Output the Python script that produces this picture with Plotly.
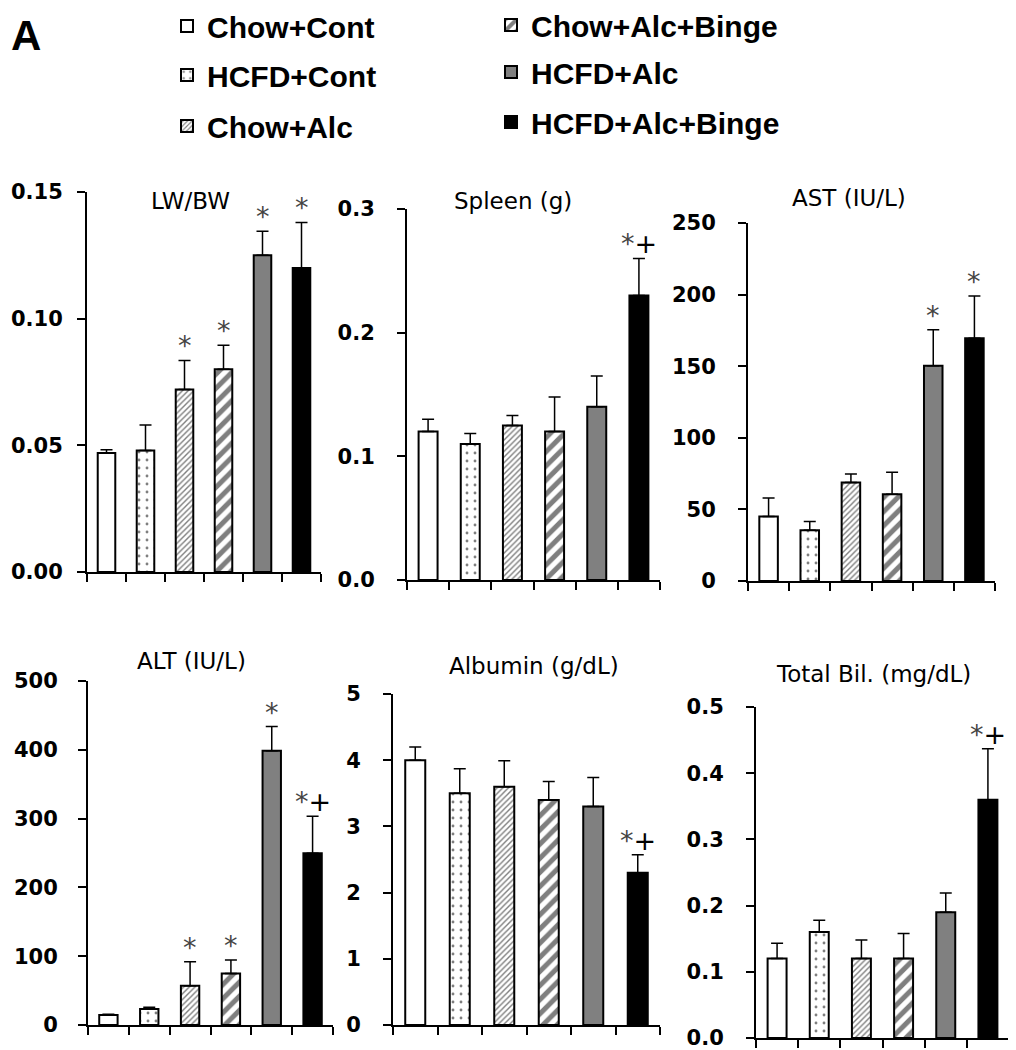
import plotly.graph_objects as go

W, H = 1016, 1050          # reference picture size
OFF = 8                    # page body margin
FW, FH = W - OFF, H - OFF  # figure size


def fx(px):
    return (px - OFF) / FW


def fy(py):
    return 1 - (py - OFF) / FH


# ---------------- data ----------------
groups = ["Chow+Cont", "HCFD+Cont", "Chow+Alc", "Chow+Alc+Binge", "HCFD+Alc", "HCFD+Alc+Binge"]

lwbw_mean = [0.047, 0.048, 0.072, 0.080, 0.125, 0.120]
lwbw_err = [0.0013, 0.010, 0.0115, 0.0095, 0.0095, 0.018]
lwbw_sig = ["", "", "*", "*", "*", "*"]

spleen_mean = [0.120, 0.110, 0.125, 0.120, 0.140, 0.230]
spleen_err = [0.010, 0.0085, 0.008, 0.028, 0.025, 0.030]
spleen_sig = ["", "", "", "", "", "*+"]

ast_mean = [45, 35.5, 68.7, 60.5, 150.4, 169.5]
ast_err = [13, 6, 6, 15.5, 25, 29.5]
ast_sig = ["", "", "", "", "*", "*"]

alt_mean = [14.5, 23.3, 57, 75, 398.7, 249.5]
alt_err = [1, 2.5, 35, 19.5, 35, 54]
alt_sig = ["", "", "*", "*", "*", "*+"]

alb_mean = [4.0, 3.5, 3.6, 3.4, 3.3, 2.3]
alb_err = [0.2, 0.37, 0.39, 0.28, 0.44, 0.27]
alb_sig = ["", "", "", "", "", "*+"]

bil_mean = [0.12, 0.16, 0.12, 0.12, 0.19, 0.36]
bil_err = [0.023, 0.018, 0.028, 0.038, 0.029, 0.077]
bil_sig = ["", "", "", "", "", "*+"]

panel_titles = ["LW/BW", "Spleen (g)", "AST (IU/L)", "ALT (IU/L)", "Albumin (g/dL)", "Total Bil. (mg/dL)"]

# ---------------- styles / layout ----------------
group_styles = [
    dict(color="white"),
    dict(color="white", pattern=dict(shape=".", size=8, solidity=0.1, fgcolor="black", bgcolor="white")),
    dict(color="white", pattern=dict(shape="/", size=4, solidity=0.35, fgcolor="black", bgcolor="white")),
    dict(color="white", pattern=dict(shape="/", size=10, solidity=0.5, fgcolor="black", bgcolor="white")),
    dict(color="#808080"),
    dict(color="black"),
]

panels = [
    dict(mean=lwbw_mean, err=lwbw_err, sig=lwbw_sig, yrange=[0, 0.15], dtick=0.05, fmt=".2f",
         box=(87, 321, 572, 192), title_xy=(190, 201), standoff=10),
    dict(mean=spleen_mean, err=spleen_err, sig=spleen_sig, yrange=[0, 0.3], dtick=0.1, fmt=".1f",
         box=(407, 660, 580, 209), title_xy=(513, 201), standoff=18),
    dict(mean=ast_mean, err=ast_err, sig=ast_sig, yrange=[0, 250], dtick=50, fmt="d",
         box=(748, 995, 581, 223), title_xy=(849, 198), standoff=18),
    dict(mean=alt_mean, err=alt_err, sig=alt_sig, yrange=[0, 500], dtick=100, fmt="d",
         box=(88, 333, 1025, 681), title_xy=(191, 661), standoff=16),
    dict(mean=alb_mean, err=alb_err, sig=alb_sig, yrange=[0, 5], dtick=1, fmt="d",
         box=(393, 660, 1025, 694), title_xy=(534, 666), standoff=18),
    dict(mean=bil_mean, err=bil_err, sig=bil_sig, yrange=[0, 0.5], dtick=0.1, fmt=".1f",
         box=(756, 1009, 1038, 707), title_xy=(873, 674), standoff=18),
]

legend_pos = [  # (legend-left px, center y px) in reference coordinates
    (167, 26), (167, 75), (167, 126),
    (491, 25), (491, 72), (491, 122),
]

fig = go.Figure()
layout = dict(
    width=FW, height=FH, margin=dict(l=0, r=0, t=0, b=0, autoexpand=False),
    paper_bgcolor="white", plot_bgcolor="white",
    barmode="overlay", annotations=[],
)

tick_font = dict(family="DejaVu Sans", size=21, color="black", weight="bold")

for pi, p in enumerate(panels):
    k = pi + 1
    xn = "x" if k == 1 else f"x{k}"
    yn = "y" if k == 1 else f"y{k}"
    x0, x1, yb, yt = p["box"]
    layout[f"xaxis{'' if k == 1 else k}"] = dict(
        domain=[fx(x0), fx(x1)], anchor=yn, type="category",
        categoryorder="array", categoryarray=groups, range=[-0.5, 5.5],
        showline=True, linewidth=2, linecolor="black", ticks="outside",
        tickson="boundaries", ticklen=8, tickwidth=2, tickcolor="black",
        showticklabels=False, showgrid=False, zeroline=False, fixedrange=True,
    )
    layout[f"yaxis{'' if k == 1 else k}"] = dict(
        domain=[fy(yb), fy(yt)], anchor=xn, range=p["yrange"],
        dtick=p["dtick"], tick0=0, tickformat=p["fmt"],
        showline=True, linewidth=2, linecolor="black", ticks="outside",
        ticklen=8, tickwidth=2, tickcolor="black", ticklabelstandoff=p["standoff"],
        ticklabeloverflow="allow",
        tickfont=tick_font, showgrid=False, zeroline=False, fixedrange=True,
    )
    for gi, g in enumerate(groups):
        st = group_styles[gi]
        marker = dict(color=st["color"], line=dict(color="black", width=2))
        if "pattern" in st:
            marker["pattern"] = st["pattern"]
        lg = "legend" if gi == 0 else f"legend{gi + 1}"
        fig.add_trace(go.Bar(
            x=[g], y=[p["mean"][gi]], width=0.45, name=g,
            marker=marker, xaxis=xn, yaxis=yn,
            error_y=dict(type="data", symmetric=False, array=[p["err"][gi]], arrayminus=[0],
                         thickness=1.5, width=6, color="black"),
            showlegend=(pi == 0), legend=lg, hoverinfo="skip",
        ))
        s = p["sig"][gi]
        if s:
            txt = s.replace("*", "<span style='color:#444'>*</span>")
            layout["annotations"].append(dict(
                x=g, y=p["mean"][gi] + p["err"][gi], xref=xn, yref=yn,
                text=txt, showarrow=False, yanchor="bottom", xanchor="center", yshift=-3,
                font=dict(family="DejaVu Sans", size=27, color="black"),
            ))
    tx, ty = p["title_xy"]
    layout["annotations"].append(dict(
        x=fx(tx), y=fy(ty), xref="paper", yref="paper", text=panel_titles[pi],
        showarrow=False, xanchor="center", yanchor="middle",
        font=dict(family="DejaVu Sans", size=23, color="black"),
    ))

layout["annotations"].append(dict(
    x=fx(9), y=fy(36), xref="paper", yref="paper", text="A", showarrow=False,
    xanchor="left", yanchor="middle",
    font=dict(family="Liberation Sans", size=42, color="black", weight="bold"),
))

for gi in range(6):
    lx, ly = legend_pos[gi]
    key = "legend" if gi == 0 else f"legend{gi + 1}"
    layout[key] = dict(
        x=fx(lx), y=fy(ly), xanchor="left", yanchor="middle",
        bgcolor="rgba(0,0,0,0)", borderwidth=0, itemwidth=30,
        font=dict(family="Liberation Sans", size=30, color="black", weight="bold"),
    )

fig.update_layout(**layout)
fig.write_html("out.html")
